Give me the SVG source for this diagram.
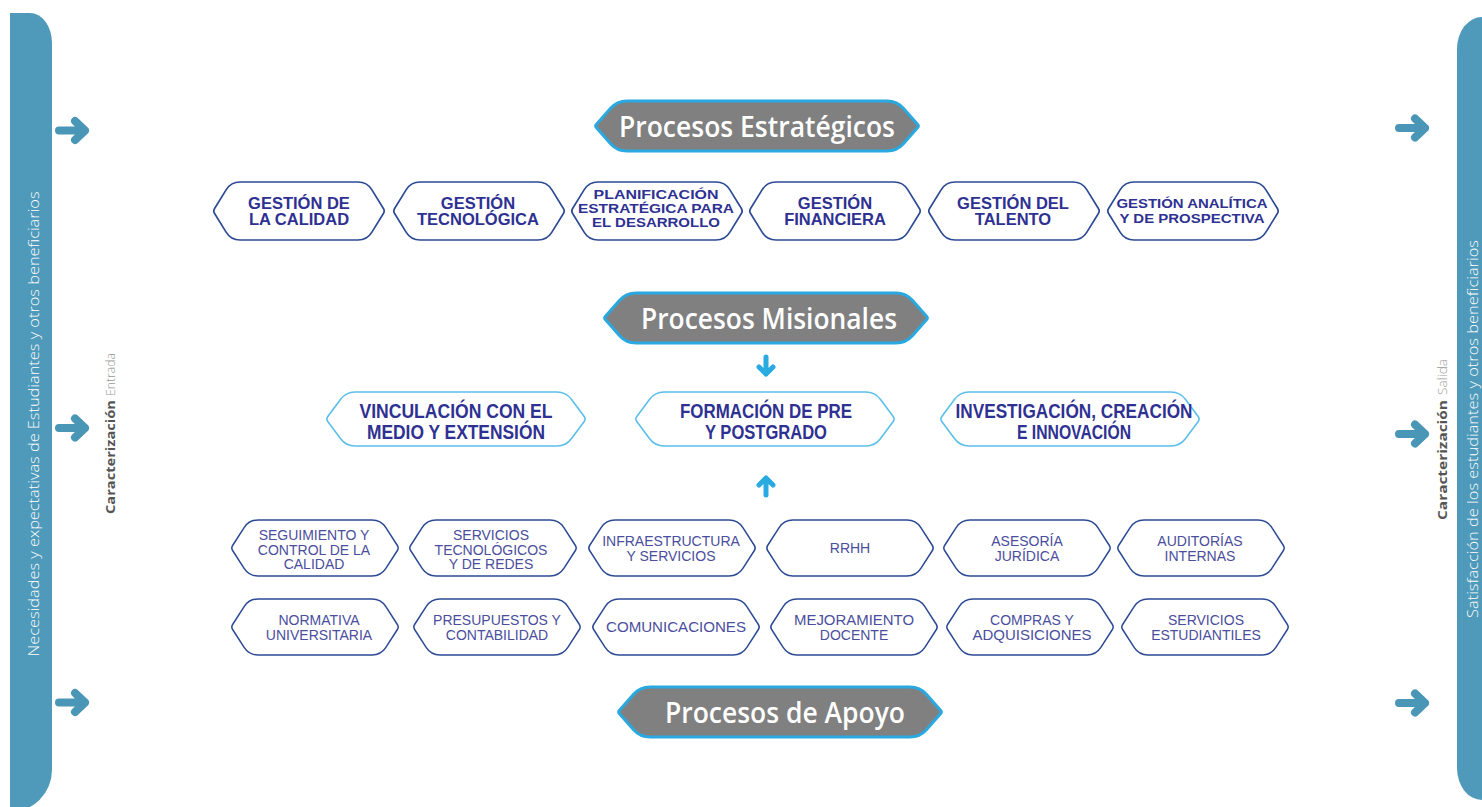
<svg xmlns="http://www.w3.org/2000/svg" xmlns:xlink="http://www.w3.org/1999/xlink" width="1482" height="807" viewBox="0 0 1482 807">
<style>
.bar{fill:#4f9aba}
.str{fill:#fff;stroke:#2c4a94;stroke-width:1.7}
.mis{fill:#fff;stroke:#5bbfe9;stroke-width:1.6}
.sup{fill:#fff;stroke:#2c4a94;stroke-width:1.5}
.hdr{fill:#808080;stroke:#2aa8e0;stroke-width:3}
.arh{fill:none;stroke:#4a96b6;stroke-width:8;stroke-linecap:round;stroke-linejoin:round}
.arv{fill:none;stroke:#29abe2;stroke-width:5;stroke-linecap:round;stroke-linejoin:round}
.th{font-family:"Open Sans","Liberation Sans",sans-serif;font-weight:600;font-size:28px;fill:#fff;text-anchor:middle}
.ts{font-family:"Liberation Sans",Arial,sans-serif;font-weight:bold;font-size:16.5px;fill:#2e3192;text-anchor:middle}
.ts2{font-size:13.5px}
.tm{font-family:"Liberation Sans",Arial,sans-serif;font-weight:bold;font-size:19.5px;fill:#2e3192;text-anchor:middle}
.tp{font-family:"Liberation Sans",Arial,sans-serif;font-size:14px;fill:#4a4e9d;text-anchor:middle}
.tbar{font-family:"Open Sans","Liberation Sans",sans-serif;font-weight:300;fill:#fff;text-anchor:middle}
.car{font-family:"Open Sans","Liberation Sans",sans-serif;font-size:13px}
.carb{font-weight:bold;fill:#555}
.carl{font-weight:300;fill:#999}
</style>
<defs>
<path id="n-str" d="M1.6,26.45 L13.25,7.65 Q18,0 27,0 L145,0 Q154,0 158.75,7.65 L170.4,26.45 Q172,29 170.4,31.55 L158.75,50.35 Q154,58 145,58 L27,58 Q18,58 13.25,50.35 L1.6,31.55 Q0,29 1.6,26.45 Z"/>
<path id="n-mis" d="M1.8,24.6 L14.64,7.23 Q20,0 29,0 L231,0 Q240,0 245.36,7.23 L258.2,24.6 Q260,27 258.2,29.4 L245.36,46.77 Q240,54 231,54 L29,54 Q20,54 14.64,46.77 L1.8,29.4 Q0,27 1.8,24.6 Z"/>
<path id="n-sup" d="M1.62,25.48 L13.13,7.57 Q18,0 27,0 L141,0 Q150,0 154.87,7.57 L166.38,25.48 Q168,28 166.38,30.52 L154.87,48.43 Q150,56 141,56 L27,56 Q18,56 13.13,48.43 L1.62,30.52 Q0,28 1.62,25.48 Z"/>
<path id="n-hdr" d="M1.3,23.5 L15.4,7.5 Q22,0 32,0 L292,0 Q302,0 308.6,7.5 L322.7,23.5 Q324,25 322.7,26.5 L308.6,42.5 Q302,50 292,50 L32,50 Q22,50 15.4,42.5 L1.3,26.5 Q0,25 1.3,23.5 Z"/>
<path id="ar-h" d="M-13,0 H13 M3,-9.5 L13,0 L3,9.5"/>
<path id="ar-v" d="M0,-9 V8 M-7,1 L0,8 L7,1"/>
</defs>

<!-- side bars -->
<g id="bar-left">
<path class="bar" d="M10,13 H30 A22,30 0 0 1 52,43 V770 A42,42 0 0 1 10,812 Z"/>
<text class="tbar" font-size="14.5" textLength="465" lengthAdjust="spacingAndGlyphs" transform="translate(39,424) rotate(-90)">Necesidades y expectativas de Estudiantes y otros beneficiarios</text>
</g>
<g id="bar-right">
<path class="bar" d="M1490,17 H1482 A25,32 0 0 0 1457,49 V768 A25,32 0 0 0 1482,800 H1490 Z"/>
<text class="tbar" font-size="15" textLength="378" lengthAdjust="spacingAndGlyphs" transform="translate(1478,429) rotate(-90)">Satisfacción de los estudiantes y otros beneficiarios</text>
</g>
<g id="car-entrada" transform="translate(115,434) rotate(-90)">
<text class="car carb" x="-80" textLength="114" lengthAdjust="spacingAndGlyphs">Caracterización</text>
<text class="car carl" x="38" textLength="43" lengthAdjust="spacingAndGlyphs">Entrada</text>
</g>
<g id="car-salida" transform="translate(1447,439) rotate(-90)">
<text class="car carb" x="-81" textLength="120" lengthAdjust="spacingAndGlyphs">Caracterización</text>
<text class="car carl" x="44" textLength="36" lengthAdjust="spacingAndGlyphs">Salida</text>
</g>

<!-- connectors -->
<g id="connectors">
<use href="#ar-h" class="arh" transform="translate(72,130.5)"/>
<use href="#ar-h" class="arh" transform="translate(72,428)"/>
<use href="#ar-h" class="arh" transform="translate(72,702.5)"/>
<use href="#ar-h" class="arh" transform="translate(1412,128)"/>
<use href="#ar-h" class="arh" transform="translate(1412,434)"/>
<use href="#ar-h" class="arh" transform="translate(1412,703)"/>
<use href="#ar-v" class="arv" transform="translate(766,366)"/>
<use href="#ar-v" class="arv" transform="translate(766,486) rotate(180)"/>
</g>

<!-- headers -->
<g id="hdr-estrategicos">
<use href="#n-hdr" class="hdr" x="595" y="101"/>
<text class="th" x="757" y="137" textLength="276" lengthAdjust="spacingAndGlyphs">Procesos Estratégicos</text>
</g>
<g id="hdr-misionales">
<use href="#n-hdr" class="hdr" x="604" y="293"/>
<text class="th" x="769" y="329" textLength="256" lengthAdjust="spacingAndGlyphs">Procesos Misionales</text>
</g>
<g id="hdr-apoyo">
<use href="#n-hdr" class="hdr" x="618" y="687"/>
<text class="th" x="785" y="723" textLength="240" lengthAdjust="spacingAndGlyphs">Procesos de Apoyo</text>
</g>

<!-- strategic -->
<g id="e1"><use href="#n-str" class="str" x="213" y="182"/>
<text class="ts" x="299" y="209">GESTIÓN DE</text><text class="ts" x="299" y="225">LA CALIDAD</text></g>
<g id="e2"><use href="#n-str" class="str" x="393" y="182"/>
<text class="ts" x="478" y="209">GESTIÓN</text><text class="ts" x="478" y="225">TECNOLÓGICA</text></g>
<g id="e3"><use href="#n-str" class="str" x="571" y="182"/>
<text class="ts ts2" x="656" y="199" textLength="125" lengthAdjust="spacingAndGlyphs">PLANIFICACIÓN</text><text class="ts ts2" x="656" y="213" textLength="156" lengthAdjust="spacingAndGlyphs">ESTRATÉGICA PARA</text><text class="ts ts2" x="656" y="227" textLength="128" lengthAdjust="spacingAndGlyphs">EL DESARROLLO</text></g>
<g id="e4"><use href="#n-str" class="str" x="749" y="182"/>
<text class="ts" x="835" y="209">GESTIÓN</text><text class="ts" x="835" y="225">FINANCIERA</text></g>
<g id="e5"><use href="#n-str" class="str" x="928" y="182"/>
<text class="ts" x="1013" y="209">GESTIÓN DEL</text><text class="ts" x="1013" y="225">TALENTO</text></g>
<g id="e6"><use href="#n-str" class="str" x="1107" y="182"/>
<text class="ts ts2" x="1192" y="208" textLength="151" lengthAdjust="spacingAndGlyphs">GESTIÓN ANALÍTICA</text><text class="ts ts2" x="1192" y="222.5" textLength="145" lengthAdjust="spacingAndGlyphs">Y DE PROSPECTIVA</text></g>

<!-- misionales -->
<g id="m1"><use href="#n-mis" class="mis" x="326" y="392"/>
<text class="tm" x="456" y="418" textLength="193" lengthAdjust="spacingAndGlyphs">VINCULACIÓN CON EL</text>
<text class="tm" x="456" y="438.5" textLength="178" lengthAdjust="spacingAndGlyphs">MEDIO Y EXTENSIÓN</text></g>
<g id="m2"><use href="#n-mis" class="mis" x="635" y="392"/>
<text class="tm" x="766" y="418" textLength="172" lengthAdjust="spacingAndGlyphs">FORMACIÓN DE PRE</text>
<text class="tm" x="766" y="438.5" textLength="122" lengthAdjust="spacingAndGlyphs">Y POSTGRADO</text></g>
<g id="m3"><use href="#n-mis" class="mis" x="940" y="392"/>
<text class="tm" x="1074" y="418" textLength="237" lengthAdjust="spacingAndGlyphs">INVESTIGACIÓN, CREACIÓN</text>
<text class="tm" x="1074" y="438.5" textLength="114" lengthAdjust="spacingAndGlyphs">E INNOVACIÓN</text></g>

<!-- apoyo row 1 -->
<g id="a1"><use href="#n-sup" class="sup" x="231" y="520"/>
<text class="tp" x="314" y="540">SEGUIMIENTO Y</text><text class="tp" x="314" y="554.5">CONTROL DE LA</text><text class="tp" x="314" y="569">CALIDAD</text></g>
<g id="a2"><use href="#n-sup" class="sup" x="409" y="520"/>
<text class="tp" x="491" y="540">SERVICIOS</text><text class="tp" x="491" y="554.5">TECNOLÓGICOS</text><text class="tp" x="491" y="569">Y DE REDES</text></g>
<g id="a3"><use href="#n-sup" class="sup" x="588" y="520"/>
<text class="tp" x="671" y="546">INFRAESTRUCTURA</text><text class="tp" x="671" y="561">Y SERVICIOS</text></g>
<g id="a4"><use href="#n-sup" class="sup" x="766" y="520"/>
<text class="tp" x="850" y="553">RRHH</text></g>
<g id="a5"><use href="#n-sup" class="sup" x="943" y="520"/>
<text class="tp" x="1027" y="546">ASESORÍA</text><text class="tp" x="1027" y="561">JURÍDICA</text></g>
<g id="a6"><use href="#n-sup" class="sup" x="1117" y="520"/>
<text class="tp" x="1200" y="546">AUDITORÍAS</text><text class="tp" x="1200" y="561">INTERNAS</text></g>

<!-- apoyo row 2 -->
<g id="a7"><use href="#n-sup" class="sup" x="231" y="599"/>
<text class="tp" x="319" y="624.5">NORMATIVA</text><text class="tp" x="319" y="639.5">UNIVERSITARIA</text></g>
<g id="a8"><use href="#n-sup" class="sup" x="413" y="599"/>
<text class="tp" x="497" y="624.5">PRESUPUESTOS Y</text><text class="tp" x="497" y="639.5">CONTABILIDAD</text></g>
<g id="a9"><use href="#n-sup" class="sup" x="592" y="599"/>
<text class="tp" x="676" y="632" textLength="140" lengthAdjust="spacingAndGlyphs">COMUNICACIONES</text></g>
<g id="a10"><use href="#n-sup" class="sup" x="770" y="599"/>
<text class="tp" x="854" y="624.5" textLength="120" lengthAdjust="spacingAndGlyphs">MEJORAMIENTO</text><text class="tp" x="854" y="639.5">DOCENTE</text></g>
<g id="a11"><use href="#n-sup" class="sup" x="946" y="599"/>
<text class="tp" x="1032" y="624.5">COMPRAS Y</text><text class="tp" x="1032" y="639.5" textLength="119" lengthAdjust="spacingAndGlyphs">ADQUISICIONES</text></g>
<g id="a12"><use href="#n-sup" class="sup" x="1121" y="599"/>
<text class="tp" x="1206" y="624.5">SERVICIOS</text><text class="tp" x="1206" y="639.5">ESTUDIANTILES</text></g>
</svg>
